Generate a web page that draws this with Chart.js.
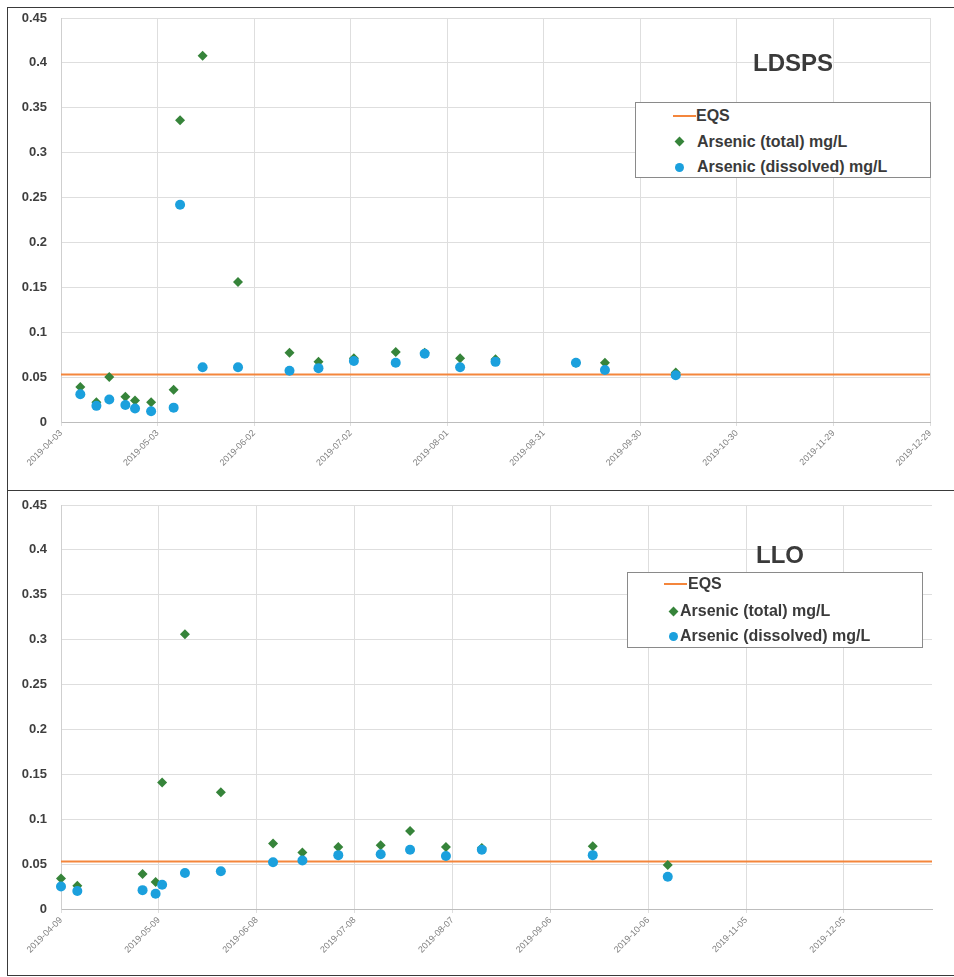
<!DOCTYPE html>
<html>
<head>
<meta charset="utf-8">
<script src="https://cdn.jsdelivr.net/npm/chart.js@4.4.0/dist/chart.umd.min.js"></script>
<style>
  body { margin: 0; background: #fff; font-family: "Liberation Sans", Arial, sans-serif; }
  .panel { position: absolute; left: 7px; width: 980px; border: 1px solid #3a3a3a; box-sizing: border-box; }
  .box { position: absolute; }
  .title { position: absolute; font-weight: bold; font-size: 24px; color: #3a3a3a; }
  .legend { position: absolute; border: 1px solid #8a8a8a; background: #fff; box-sizing: border-box; font-weight: bold; font-size: 16px; color: #3a3a3a; }
  .legend .row { position: absolute; white-space: nowrap; line-height: 18px; }
  .mk { position: absolute; }
</style>
</head>
<body>
<div class="panel" style="top:7px;height:484px"></div>
<div class="panel" style="top:490px;height:486px"></div>

<div class="box" style="left:8px;top:8px;width:946px;height:482px"><canvas id="topChart"></canvas></div>
<div class="box" style="left:8px;top:491px;width:946px;height:484px"><canvas id="bottomChart"></canvas></div>

<div class="title" style="left:753px;top:49px">LDSPS</div>
<div class="title" style="left:756px;top:541px">LLO</div>

<div class="legend" style="left:635px;top:102px;width:296px;height:76px">
  <div class="mk" style="left:37px;top:12px;width:23px;height:2px;background:#f4863c"></div>
  <div class="row" style="left:60px;top:4px">EQS</div>
  <div class="mk" style="left:40px;top:35px;width:7px;height:7px;background:#36843a;transform:rotate(45deg)"></div>
  <div class="row" style="left:61px;top:30px">Arsenic (total) mg/L</div>
  <div class="mk" style="left:39px;top:60px;width:9px;height:9px;border-radius:50%;background:#1ba0dd"></div>
  <div class="row" style="left:61px;top:55px">Arsenic (dissolved) mg/L</div>
</div>

<div class="legend" style="left:627px;top:572px;width:296px;height:76px">
  <div class="mk" style="left:36px;top:10px;width:23px;height:2px;background:#f4863c"></div>
  <div class="row" style="left:60px;top:2px">EQS</div>
  <div class="mk" style="left:42px;top:35px;width:7px;height:7px;background:#36843a;transform:rotate(45deg)"></div>
  <div class="row" style="left:52px;top:29px">Arsenic (total) mg/L</div>
  <div class="mk" style="left:41px;top:59px;width:9px;height:9px;border-radius:50%;background:#1ba0dd"></div>
  <div class="row" style="left:52px;top:54px">Arsenic (dissolved) mg/L</div>
</div>

<script>
// LDSPS samples
const ldspsDates = ['2019-04-09', '2019-04-14', '2019-04-18', '2019-04-23', '2019-04-26', '2019-05-01', '2019-05-08',
  '2019-05-10', '2019-05-17', '2019-05-28', '2019-06-13', '2019-06-22', '2019-07-03', '2019-07-16', '2019-07-25',
  '2019-08-05', '2019-08-16', '2019-09-10', '2019-09-19', '2019-10-11'];
const ldspsTotal = [0.039, 0.022, 0.050, 0.028, 0.024, 0.022, 0.036, 0.336, 0.408, 0.156, 0.077, 0.067, 0.071,
  0.078, 0.077, 0.071, 0.070, 0.066, 0.066, 0.055];
const ldspsDissolved = [0.031, 0.018, 0.025, 0.019, 0.015, 0.012, 0.016, 0.242, 0.061, 0.061, 0.057, 0.060, 0.068,
  0.066, 0.076, 0.061, 0.067, 0.066, 0.058, 0.052];

// LLO samples
const lloDates = ['2019-04-09', '2019-04-14', '2019-05-04', '2019-05-08', '2019-05-10', '2019-05-17', '2019-05-28',
  '2019-06-13', '2019-06-22', '2019-07-03', '2019-07-16', '2019-07-25', '2019-08-05', '2019-08-16', '2019-09-19',
  '2019-10-12'];
const lloTotal = [0.034, 0.026, 0.039, 0.030, 0.141, 0.306, 0.130, 0.073, 0.063, 0.069, 0.071, 0.087, 0.069, 0.068,
  0.070, 0.049];
const lloDissolved = [0.025, 0.020, 0.021, 0.017, 0.027, 0.040, 0.042, 0.052, 0.054, 0.060, 0.061, 0.066, 0.059,
  0.066, 0.060, 0.036];

const eqs = 0.053;
const yTicks = [0, 0.05, 0.1, 0.15, 0.2, 0.25, 0.3, 0.35, 0.4, 0.45];

const DAY = 86400000;

function makeChart(id, startDate, endDate, dates, total, dissolved, pad, yWidth, xHeight) {
  const start = Date.parse(startDate);
  const toDay = d => (Date.parse(d) - start) / DAY;
  const maxDay = toDay(endDate);

  return new Chart(document.getElementById(id), {
    type: 'scatter',
    data: {
      datasets: [
        {
          label: 'Arsenic (dissolved) mg/L',
          data: dates.map((d, i) => ({ x: toDay(d), y: dissolved[i] })),
          pointStyle: 'circle',
          pointRadius: 5,
          backgroundColor: '#1ba0dd',
          borderColor: '#1ba0dd',
          borderWidth: 0,
          clip: false,
          order: 0
        },
        {
          label: 'Arsenic (total) mg/L',
          data: dates.map((d, i) => ({ x: toDay(d), y: total[i] })),
          pointStyle: 'rectRot',
          pointRadius: 5,
          backgroundColor: '#36843a',
          borderColor: '#36843a',
          borderWidth: 0,
          clip: false,
          order: 1
        },
        {
          label: 'EQS',
          data: [{ x: 0, y: eqs }, { x: maxDay, y: eqs }],
          showLine: true,
          borderColor: '#f4863c',
          borderWidth: 2,
          pointRadius: 0,
          order: 2
        }
      ]
    },
    options: {
      responsive: true,
      maintainAspectRatio: false,
      animation: false,
      layout: { padding: pad },
      plugins: { legend: { display: false }, tooltip: { enabled: false } },
      scales: {
        x: {
          type: 'linear',
          min: 0,
          max: maxDay,
          border: { color: '#bdbdbd' },
          grid: { color: '#dedede', tickLength: 4 },
          ticks: {
            stepSize: 30,
            includeBounds: false,
            autoSkip: false,
            minRotation: 45,
            maxRotation: 45,
            padding: 2,
            color: '#808080',
            font: { family: 'Liberation Sans', size: 9 },
            callback: v => new Date(start + v * DAY).toISOString().slice(0, 10)
          },
          afterFit: s => { s.height = xHeight; }
        },
        y: {
          min: 0,
          max: 0.45,
          border: { color: '#cfcfcf' },
          grid: { color: '#dedede', tickLength: 12, tickColor: 'rgba(0,0,0,0)' },
          afterBuildTicks: s => { s.ticks = yTicks.map(v => ({ value: v })); },
          ticks: {
            padding: 2,
            color: '#3f3f3f',
            font: { family: 'Liberation Sans', size: 13, weight: 'bold' },
            callback: v => String(+v.toFixed(2))
          },
          afterFit: s => { s.width = yWidth; }
        }
      }
    }
  });
}

makeChart('topChart', '2019-04-03', '2019-12-29', ldspsDates, ldspsTotal, ldspsDissolved,
  { top: 10, right: 24, left: 0, bottom: 0 }, 53, 68);
makeChart('bottomChart', '2019-04-09', '2020-01-01', lloDates, lloTotal, lloDissolved,
  { top: 14, right: 22, left: 0, bottom: 0 }, 53, 66);
</script>
</body>
</html>
